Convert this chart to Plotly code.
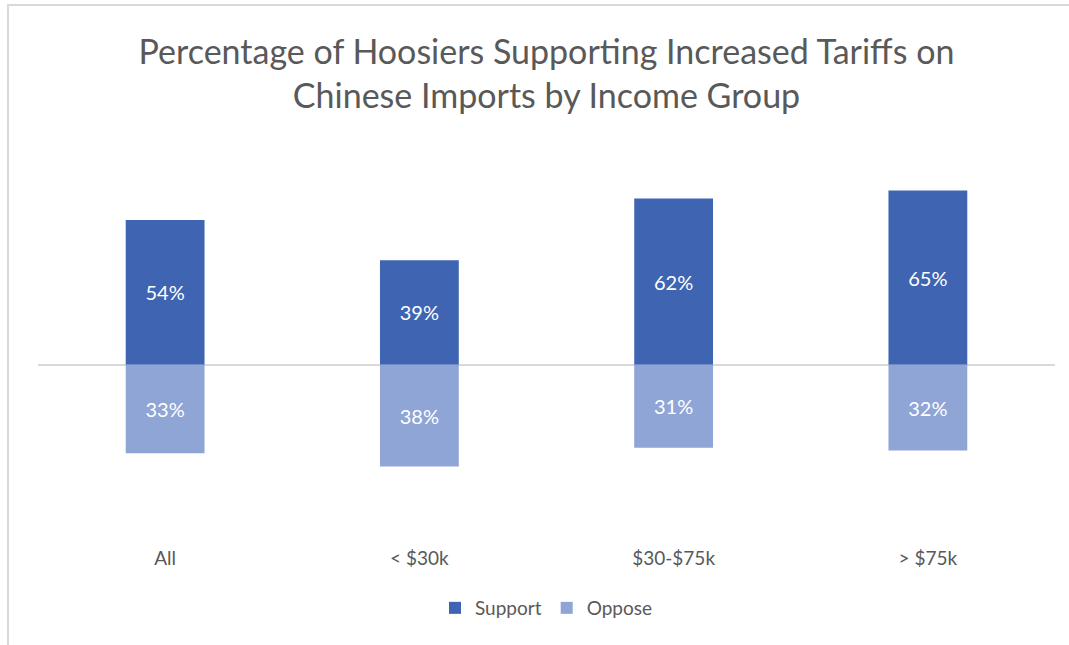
import plotly.graph_objects as go

# Survey results by income group (percent of respondents)
categories = ["All", "< $30k", "$30-$75k", "> $75k"]
support = [54, 39, 62, 65]
oppose = [33, 38, 31, 32]

title_text = "Percentage of Hoosiers Supporting Increased Tariffs on<br>Chinese Imports by Income Group"

W, H = 1069, 645
ML, MR, MT, MB = 38, 14, 177, 106

SUPPORT_COLOR = "#3F64B1"
OPPOSE_COLOR = "#8FA5D6"
TEXT_GRAY = "#595959"
FONT = "Lato, 'Open Sans', sans-serif"

fig = go.Figure()
fig.add_trace(go.Bar(
    x=categories, y=support, name="Support",
    marker=dict(color=SUPPORT_COLOR, line=dict(width=0)),
    text=[f"{v}%" for v in support],
    textposition="inside", insidetextanchor="middle",
    textfont=dict(color="white", size=20, family=FONT),
))
fig.add_trace(go.Bar(
    x=categories, y=[-v for v in oppose], name="Oppose",
    marker=dict(color=OPPOSE_COLOR, line=dict(width=0)),
    text=[f"{v}%" for v in oppose],
    textposition="inside", insidetextanchor="middle",
    textfont=dict(color="white", size=20, family=FONT),
))

# chart frame: thin gray border around the chart area
def px_x(p):
    return (p - ML) / (W - ML - MR)

def px_y(p):
    return 1 - (p - MT) / (H - MT - MB)

fig.add_shape(type="rect", xref="paper", yref="paper",
              x0=px_x(8), x1=px_x(1080), y0=px_y(660), y1=px_y(5),
              line=dict(color="#D9D9D9", width=2), fillcolor="rgba(0,0,0,0)",
              layer="below")

fig.update_layout(
    width=W, height=H,
    margin=dict(l=ML, r=MR, t=MT, b=MB),
    paper_bgcolor="white", plot_bgcolor="white",
    barmode="relative", bargap=0.69,
    font=dict(family=FONT, color=TEXT_GRAY),
    title=dict(text=title_text, x=0.5, xref="paper", xanchor="center",
               y=1 - 64 / H, yanchor="top", yref="container",
               font=dict(size=34, color=TEXT_GRAY, family=FONT)),
    xaxis=dict(showgrid=False, showline=False, ticks="outside", ticklen=2,
               tickcolor="rgba(0,0,0,0)",
               tickfont=dict(size=19, color=TEXT_GRAY, family=FONT)),
    yaxis=dict(range=[-65, 70], showgrid=False, showticklabels=False,
               zeroline=True, zerolinecolor="#D9D9D9", zerolinewidth=2,
               showline=False, ticks=""),
    legend=dict(orientation="h", x=0.5, xanchor="center",
                y=px_y(608), yanchor="middle",
                font=dict(size=19, color=TEXT_GRAY, family=FONT),
                itemwidth=30, traceorder="normal"),
    showlegend=True,
)

fig.write_html("out.html")
